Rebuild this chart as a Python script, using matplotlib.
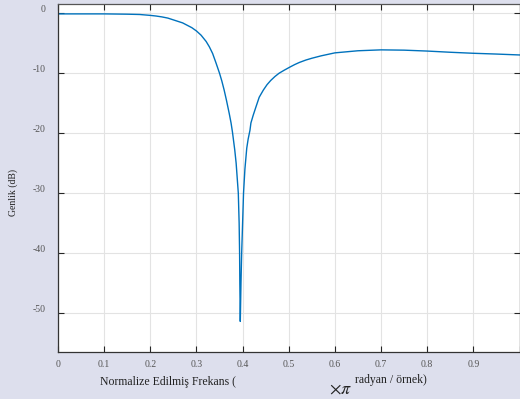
#Frequency response of a notch filter
import numpy as np
import matplotlib
matplotlib.use('Agg')
import matplotlib.pyplot as plt
import matplotlib.transforms as mtransforms

#Normalised frequency (x pi rad/sample) and magnitude in dB
freq = [0.0, 0.05, 0.10, 0.15, 0.177, 0.20, 0.212, 0.225, 0.238, 0.25,
        0.26, 0.27, 0.285, 0.29, 0.30, 0.31, 0.321, 0.328, 0.335, 0.342,
        0.35, 0.355, 0.36, 0.365, 0.371, 0.375, 0.378, 0.383, 0.386,
        0.3907, 0.3925, 0.3935, 0.394, 0.395, 0.3965, 0.398, 0.400, 0.402,
        0.405, 0.409, 0.412, 0.416, 0.418, 0.423, 0.429, 0.436, 0.445,
        0.453, 0.461, 0.47, 0.479, 0.49, 0.503, 0.513, 0.523, 0.537,
        0.55, 0.57, 0.60, 0.65, 0.70, 0.75, 0.80, 0.85, 0.90, 0.95, 1.0]
mag_db = [-0.1, -0.1, -0.1, -0.15, -0.2, -0.35, -0.45, -0.6, -0.8, -1.1,
          -1.35, -1.6, -2.2, -2.4, -2.95, -3.65, -4.7, -5.6, -6.7, -8.2,
          -10.0, -11.3, -12.8, -14.5, -16.7, -18.3, -19.8, -22.8, -25.0,
          -30.0, -35.0, -40.0, -45.0, -51.4, -45.0, -40.0, -35.0, -30.0,
          -26.0, -22.5, -21.0, -19.5, -18.3, -17.0, -15.6, -14.0, -12.8,
          -11.9, -11.2, -10.55, -10.0, -9.5, -8.95, -8.55, -8.2, -7.8,
          -7.5, -7.1, -6.6, -6.25, -6.1, -6.15, -6.3, -6.5, -6.67, -6.8, -6.95]

xticks = [0, 0.1, 0.2, 0.3, 0.4, 0.5, 0.6, 0.7, 0.8, 0.9, 1.0]
xticklabels = ['0', '0.1', '0.2', '0.3', '0.4', '0.5', '0.6', '0.7', '0.8', '0.9', '']
yticks = [0, -10, -20, -30, -40, -50]
yticklabels = ['0', '-10', '-20', '-30', '-40', '-50']

plt.rcParams['font.family'] = ['Liberation Serif', 'DejaVu Serif']
plt.rcParams['mathtext.fontset'] = 'stix'

W, H = 520, 399
fig = plt.figure(figsize=(W/100, H/100), dpi=100, facecolor='#dddfed')
ax = fig.add_axes([58/W, 47/H, 461.5/W, 348/H])
ax.set_facecolor('white')

ax.plot(freq, mag_db, color='#0072bd', linewidth=1.0)

ax.set_xlim(0, 1)
ax.set_ylim(-56.5, 1.55)
ax.set_xticks(xticks)
ax.set_xticklabels(xticklabels)
ax.set_yticks(yticks)
ax.set_yticklabels(yticklabels)
ax.grid(True, color='#e3e3e3', linewidth=0.8)
ax.set_axisbelow(True)
ax.tick_params(direction='in', length=4, width=0.8, color='#262626',
               labelsize=7, labelcolor='#555555', top=True, right=True)
ax.tick_params(axis='y', pad=9)
ax.tick_params(axis='x', pad=6)
for s in ax.spines.values():
    s.set_color('#333333')
    s.set_linewidth(0.9)
ax.spines['top'].set_color('#555555')

#y tick labels sit a little above their ticks in the reference
shift = mtransforms.ScaledTranslation(0, 5/100, fig.dpi_scale_trans)
for lab in ax.get_yticklabels():
    lab.set_transform(lab.get_transform() + shift)

#Axis labels (x label is split the way the reference shows it)
fig.text(13/W, 1 - 192/H, 'Genlik (dB)', rotation=90, ha='center', va='center',
         fontsize=7, color='#222222')
fig.text(100/W, 1 - 382/H, 'Normalize Edilmiş Frekans (', ha='left', va='center',
         fontsize=8.5, color='#222222')
fig.text(329/W, 1 - 389/H, r'$\times\pi$', ha='left', va='center',
         fontsize=13, color='#222222')
fig.text(355/W, 1 - 380/H, 'radyan / örnek)', ha='left', va='center',
         fontsize=8.5, color='#222222')

plt.savefig('out.png', dpi=100, facecolor=fig.get_facecolor())
